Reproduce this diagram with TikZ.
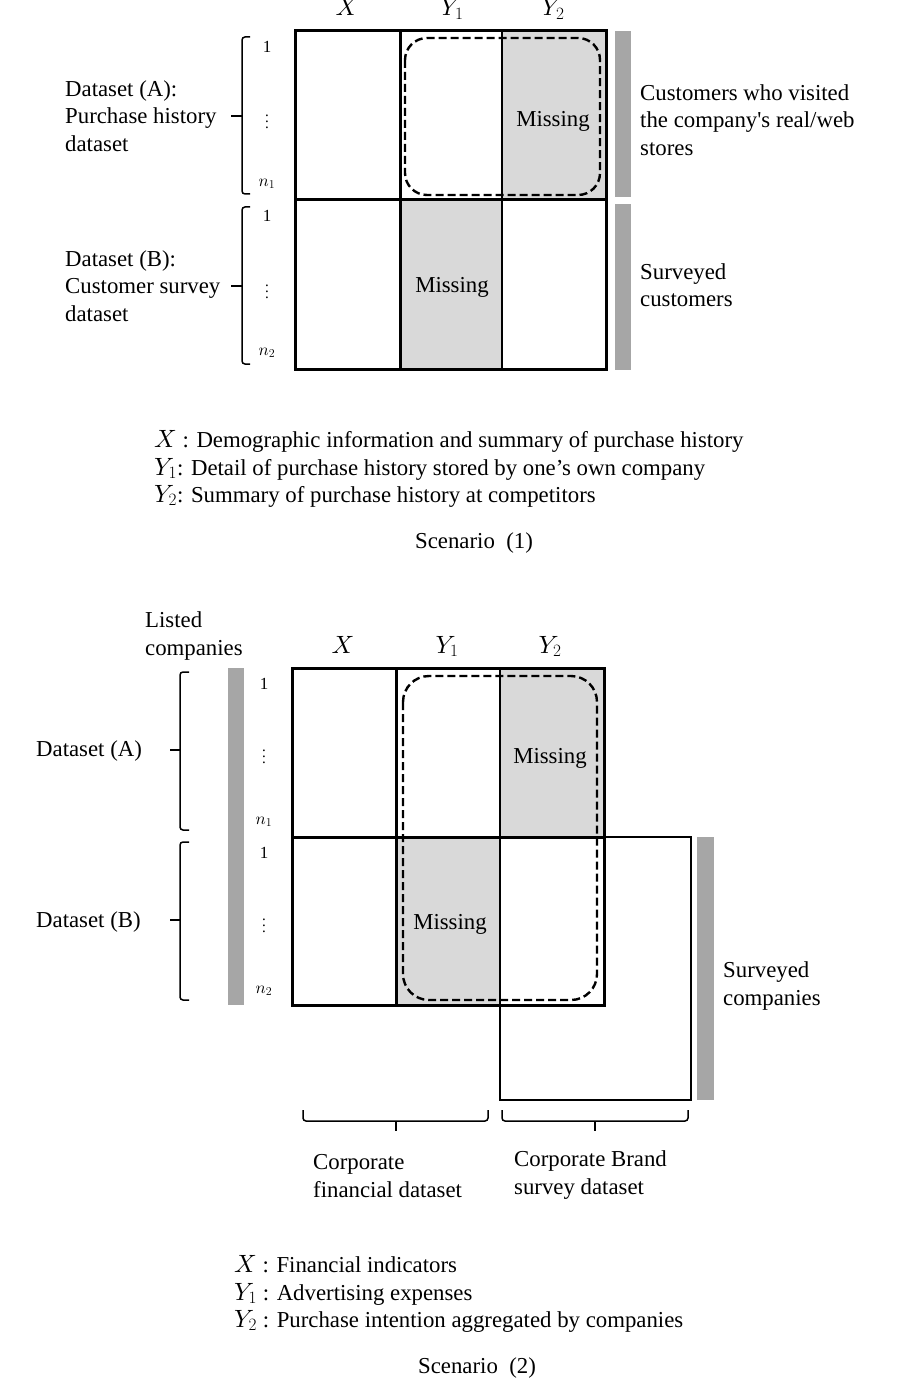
\documentclass[tikz,border=0pt]{standalone}
\usepackage{fontspec}
\setmainfont{Liberation Serif}
\DeclareFontShape{OML}{cmm}{m}{it}{<-> cmmi10}{}
\DeclareFontShape{OML}{cmm}{b}{it}{<-> cmmib10}{}
\definecolor{cellgray}{HTML}{D9D9D9}
\definecolor{bargray}{HTML}{A6A6A6}
\newcommand{\bigvdots}{\scalebox{1.5}{\fontsize{10}{12}\selectfont$\vdots$}}
\newcommand{\legX}[1]{{\fontsize{25}{27.5}\selectfont$#1$}}
\begin{document}
\begin{tikzpicture}[x=1pt,y=-1pt,
  txt/.style={font=\fontsize{22.8}{27.5}\selectfont, inner sep=0pt, align=left},
  rowlab/.style={font=\fontsize{17}{20}\selectfont, inner sep=0pt},
  hdr/.style={font=\fontsize{25}{28}\selectfont, inner sep=0pt, anchor=base},
  thickline/.style={line width=3pt},
  thinline/.style={line width=1.6pt},
  dashbox/.style={line width=2.4pt, dash pattern=on 8pt off 4pt, rounded corners=22pt},
  brace/.style={line width=1.5pt, rounded corners=3pt}]
\useasboundingbox (0,0) rectangle (900,1396);
\fill[white] (0,0) rectangle (900,1396);

% ---------------- Scenario 1 ----------------
\fill[cellgray] (502,31) rectangle (606,200);
\fill[cellgray] (400,200) rectangle (502,369);
\draw[thinline] (502,31) -- (502,369);
\draw[thickline] (400,31) -- (400,369);
\draw[thickline] (295,200) -- (606,200);
\draw[thickline] (295,31) rectangle (606,369);
\draw[dashbox] (405,38) rectangle (600,195);

\node[hdr] (h1x) at (347,16) {$X$};
\node[hdr] (h1y1) at (452,16) {$Y_1$};
\node[hdr] (h1y2) at (553,16) {$Y_2$};

\node[rowlab] (r1a1) at (267,47) {1};
\node[rowlab] (r1a2) at (267,117) {\bigvdots};
\node[rowlab] (r1a3) at (267,184) {$n_1$};
\node[rowlab] (r1b1) at (267,216) {1};
\node[rowlab] (r1b2) at (267,287) {\bigvdots};
\node[rowlab] (r1b3) at (267,353) {$n_2$};

\draw[brace] (250,37) -| (242,194) -- (250,194);
\draw[brace] (242,116) -- (231,116);
\draw[brace] (250,207) -| (242,364) -- (250,364);
\draw[brace] (242,286) -- (231,286);

\fill[bargray] (615,31) rectangle (631,197);
\fill[bargray] (615,204) rectangle (631,370);

\node[txt, anchor=west] (dsA1) at (65,116) {Dataset (A):\\Purchase history\\dataset};
\node[txt, anchor=west] (dsB1) at (65,286) {Dataset (B):\\Customer survey\\dataset};
\node[txt] (miss1a) at (553,121) {Missing};
\node[txt] (miss1b) at (452,287) {Missing};
\node[txt, anchor=west] (cust1) at (640,120) {Customers who visited\\the company\textquotesingle s real/web\\stores};
\node[txt, anchor=west] (surv1) at (640,285) {Surveyed\\customers};

\node[txt, anchor=base west] (leg1a) at (154,447) {\legX{X} : Demographic information and summary of purchase history};
\node[txt, anchor=base west] (leg1b) at (154,475) {\legX{Y_1}: Detail of purchase history stored by one’s own company};
\node[txt, anchor=base west] (leg1c) at (154,502) {\legX{Y_2}: Summary of purchase history at competitors};
\node[txt, anchor=base] (sc1) at (474,548) {Scenario\hspace{0.5em}(1)};

% ---------------- Scenario 2 ----------------
\fill[cellgray] (500,668) rectangle (604,837);
\fill[cellgray] (396,837) rectangle (500,1005);
\draw[thinline] (500,668) -- (500,1100) -- (691,1100) -- (691,837) -- (604,837);
\draw[thickline] (396,668) -- (396,1005);
\draw[thickline] (292,837) -- (604,837);
\draw[thickline] (292,668) rectangle (604,1005);
\draw[dashbox, rounded corners=26pt] (403,676) rectangle (597,1000);

\node[hdr] (h2x) at (343,653) {$X$};
\node[hdr] (h2y1) at (447,653) {$Y_1$};
\node[hdr] (h2y2) at (550,653) {$Y_2$};

\node[rowlab] (r2a1) at (264,684) {1};
\node[rowlab] (r2a2) at (264,752) {\bigvdots};
\node[rowlab] (r2a3) at (264,822) {$n_1$};
\node[rowlab] (r2b1) at (264,853) {1};
\node[rowlab] (r2b2) at (264,921) {\bigvdots};
\node[rowlab] (r2b3) at (264,991) {$n_2$};

\fill[bargray] (228,668) rectangle (244,1005);
\fill[bargray] (697,837) rectangle (714,1100);

\draw[brace] (189,672) -| (180,830) -- (189,830);
\draw[brace] (180,750) -- (170,750);
\draw[brace] (189,842) -| (180,1000) -- (189,1000);
\draw[brace] (180,920) -- (170,920);

\draw[brace] (303,1110) |- (488,1121) -- (488,1110);
\draw[brace] (396,1121) -- (396,1131);
\draw[brace] (502,1110) |- (688,1121) -- (688,1110);
\draw[brace] (595,1121) -- (595,1131);

\node[txt, anchor=west] (listed) at (145,636) {Listed\\companies};
\node[txt, anchor=west] (dsA2) at (36,751) {Dataset (A)};
\node[txt, anchor=west] (dsB2) at (36,922) {Dataset (B)};
\node[txt] (miss2a) at (550,758) {Missing};
\node[txt] (miss2b) at (450,924) {Missing};
\node[txt, anchor=west] (surv2) at (723,986) {Surveyed\\companies};
\node[txt, anchor=west] (fin) at (313,1176) {Corporate\\financial dataset};
\node[txt, anchor=west] (brand) at (514,1175) {Corporate Brand\\survey dataset};

\node[txt, anchor=base west] (leg2a) at (234,1272) {\legX{X} : Financial indicators};
\node[txt, anchor=base west] (leg2b) at (234,1300) {\legX{Y_1} : Advertising expenses};
\node[txt, anchor=base west] (leg2c) at (234,1327) {\legX{Y_2} : Purchase intention aggregated by companies};
\node[txt, anchor=base] (sc2) at (477,1373) {Scenario\hspace{0.5em}(2)};
\end{tikzpicture}
\end{document}
